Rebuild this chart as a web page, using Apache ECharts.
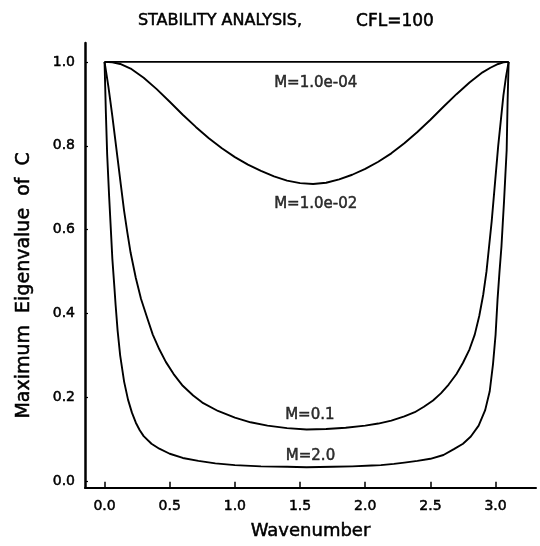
<!DOCTYPE html>
<html>
<head>
<meta charset="utf-8">
<script src="https://cdn.jsdelivr.net/npm/echarts@6/dist/echarts.min.js"></script>
<style>
  html, body { margin: 0; padding: 0; background: #fff; }
  #chart { width: 540px; height: 546px; }
</style>
</head>
<body>
<div id="chart"></div>
<script>
// Wavenumber samples and maximum eigenvalue of C for each M
const xM4 = [0, 0.5, 1.0, 1.5, 2.0, 2.5, 3.1];
const yM4 = [1.0, 1.0, 1.0, 1.0, 1.0, 1.0, 1.0];

const xM2 = [0, 0.06, 0.12, 0.2, 0.3, 0.4, 0.5, 0.6, 0.7, 0.8, 0.9, 1.0, 1.1, 1.2, 1.3, 1.4, 1.5, 1.6, 1.7, 1.8,
             1.9, 2.0, 2.1, 2.2, 2.3, 2.4, 2.5, 2.6, 2.7, 2.8, 2.9, 2.96, 3.02, 3.06, 3.1];
const yM2 = [1.0, 0.999, 0.995, 0.984, 0.962, 0.935, 0.905, 0.874, 0.845, 0.818, 0.794, 0.773, 0.755, 0.74, 0.727, 0.717, 0.711, 0.709, 0.712, 0.72,
             0.731, 0.745, 0.762, 0.782, 0.806, 0.833, 0.862, 0.893, 0.923, 0.951, 0.975, 0.986, 0.995, 0.999, 1.0];

const xM01 = [0, 0.015, 0.03, 0.045, 0.06, 0.08, 0.1, 0.125, 0.15, 0.175, 0.2, 0.24, 0.28, 0.33, 0.37, 0.42, 0.47, 0.53, 0.6, 0.68,
              0.75, 0.87, 1.0, 1.12, 1.25, 1.4, 1.55, 1.7, 1.85, 2.0, 2.1, 2.2, 2.3, 2.38, 2.45, 2.52, 2.58, 2.64, 2.7, 2.75,
              2.8, 2.84, 2.875, 2.905, 2.93, 2.95, 2.97, 2.995, 3.02, 3.04, 3.06, 3.08, 3.1];
const yM01 = [1.0, 0.97, 0.94, 0.905, 0.87, 0.82, 0.77, 0.707, 0.645, 0.593, 0.545, 0.485, 0.435, 0.387, 0.35, 0.315, 0.285, 0.256, 0.228, 0.205,
              0.188, 0.168, 0.152, 0.141, 0.133, 0.127, 0.124, 0.125, 0.128, 0.133, 0.138, 0.145, 0.155, 0.165, 0.178, 0.193, 0.21, 0.231, 0.256, 0.283,
              0.315, 0.35, 0.395, 0.445, 0.5, 0.56, 0.62, 0.71, 0.8, 0.86, 0.92, 0.965, 1.0];

const xM20 = [0, 0.005, 0.01, 0.02, 0.035, 0.05, 0.06, 0.075, 0.085, 0.1, 0.12, 0.15, 0.18, 0.21, 0.24, 0.27, 0.3, 0.36, 0.42, 0.5,
              0.6, 0.72, 0.85, 1.0, 1.2, 1.4, 1.55, 1.75, 1.9, 2.05, 2.12, 2.22, 2.3, 2.4, 2.5, 2.6, 2.68, 2.75, 2.81, 2.87,
              2.92, 2.955, 2.98, 3.0, 3.015, 3.03, 3.045, 3.055, 3.065, 3.075, 3.085, 3.092, 3.1];
const yM20 = [1.0, 0.94, 0.88, 0.78, 0.68, 0.59, 0.53, 0.465, 0.42, 0.36, 0.3, 0.238, 0.195, 0.164, 0.14, 0.122, 0.108, 0.09, 0.078, 0.066,
              0.056, 0.049, 0.043, 0.039, 0.036, 0.035, 0.034, 0.035, 0.036, 0.038, 0.039, 0.042, 0.045, 0.049, 0.054, 0.063, 0.077, 0.09, 0.107, 0.133,
              0.17, 0.215, 0.279, 0.35, 0.434, 0.5, 0.56, 0.615, 0.669, 0.73, 0.79, 0.904, 1.0];

// Curve annotations and where they sit (data units)
const curveNames = ['M=1.0e-04', 'M=1.0e-02', 'M=0.1', 'M=2.0'];
const nameX = [1.62, 1.62, 1.575, 1.58];
const nameY = [0.95, 0.662, 0.157, 0.061];

// Tick values
const xTicks = [0.0, 0.5, 1.0, 1.5, 2.0, 2.5, 3.0];
const yTicks = [0.0, 0.2, 0.4, 0.6, 0.8, 1.0];

const pairs = (xs, ys) => xs.map((x, i) => [x, ys[i]]);

const makeCurve = (name, xs, ys) => ({
  name: name,
  type: 'line',
  data: pairs(xs, ys),
  showSymbol: false,
  smooth: false,
  lineStyle: { color: '#000', width: 1.9, join: 'round' },
  silent: true,
  z: 3
});

const font = 'DejaVu Sans, Liberation Sans, sans-serif';
const ink = '#000';
// a light outline in the text colour gives the heavier plotter-pen look
const heavy = { textBorderColor: '#000', textBorderWidth: 0.5 };

const chart = echarts.init(document.getElementById('chart'), null, { renderer: 'canvas' });
chart.setOption({
  backgroundColor: '#fff',
  animation: false,
  title: [
    {
      text: 'STABILITY ANALYSIS,',
      left: 215,
      textAlign: 'center',
      top: 8,
      textStyle: Object.assign({ fontFamily: font, fontSize: 16, fontWeight: 'normal', color: ink }, heavy)
    },
    {
      text: 'CFL=100',
      left: 390,
      textAlign: 'center',
      top: 8,
      textStyle: Object.assign({ fontFamily: font, fontSize: 17, fontWeight: 'normal', color: ink }, heavy)
    }
  ],
  grid: { left: 85, top: 43, width: 451, height: 451, containLabel: false },
  xAxis: {
    type: 'value',
    min: -0.15,
    max: 3.31,
    name: 'Wavenumber',
    nameLocation: 'middle',
    nameGap: 35,
    nameTextStyle: Object.assign({ fontFamily: font, fontSize: 18, color: ink }, heavy),
    axisLine: { onZero: false, lineStyle: { color: '#000', width: 2 } },
    axisTick: { inside: true, length: 6, customValues: xTicks, lineStyle: { color: '#000', width: 1.5 } },
    axisLabel: Object.assign({
      customValues: xTicks,
      margin: 12,
      fontFamily: font,
      fontSize: 14,
      color: ink,
      formatter: v => v.toFixed(1)
    }, heavy),
    splitLine: { show: false }
  },
  yAxis: {
    type: 'value',
    min: -0.015,
    max: 1.045,
    name: 'Maximum  Eigenvalue  of  C',
    nameLocation: 'middle',
    nameGap: 51,
    nameRotate: 90,
    nameTextStyle: Object.assign({ fontFamily: font, fontSize: 19, color: ink, padding: [0, 40, 0, 0] }, heavy),
    axisLine: { onZero: false, lineStyle: { color: '#000', width: 2.5 } },
    axisTick: { inside: true, length: 3, customValues: yTicks, lineStyle: { color: '#000', width: 1.2 } },
    axisLabel: Object.assign({
      customValues: yTicks,
      margin: 10,
      fontFamily: font,
      fontSize: 14,
      color: ink,
      formatter: v => v.toFixed(1)
    }, heavy),
    splitLine: { show: false }
  },
  series: [
    makeCurve(curveNames[0], xM4, yM4),
    makeCurve(curveNames[1], xM2, yM2),
    makeCurve(curveNames[2], xM01, yM01),
    makeCurve(curveNames[3], xM20, yM20),
    {
      type: 'scatter',
      symbolSize: 0,
      silent: true,
      data: curveNames.map((n, i) => ({ value: [nameX[i], nameY[i]], name: n })),
      label: Object.assign({
        show: true,
        position: 'inside',
        formatter: p => p.name,
        fontFamily: font,
        fontSize: 15,
        color: ink
      }, heavy),
      z: 4
    }
  ]
});
</script>
</body>
</html>
